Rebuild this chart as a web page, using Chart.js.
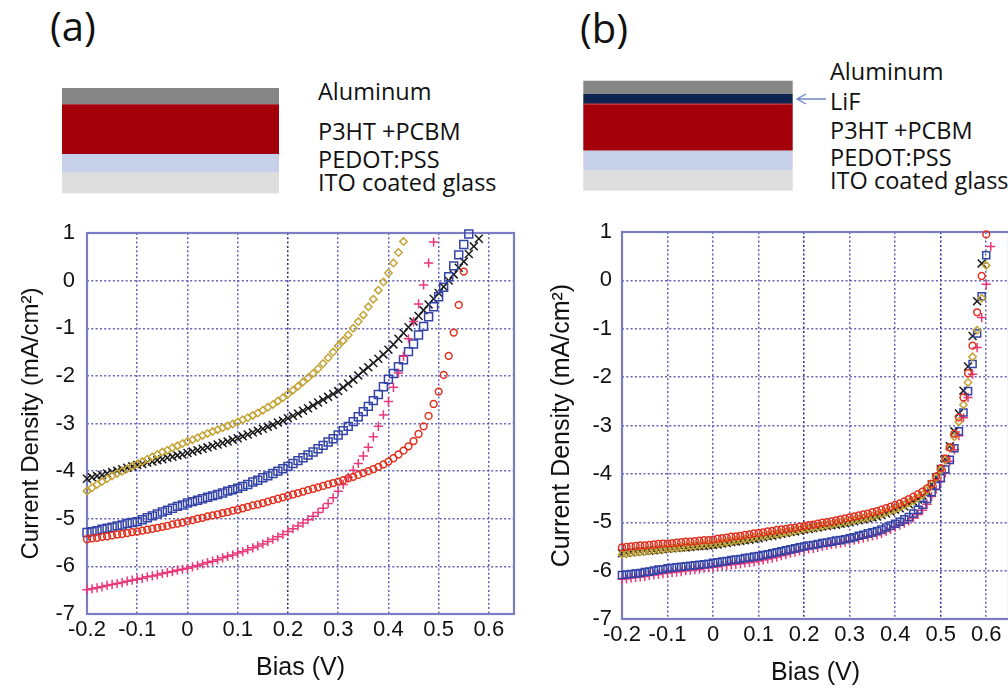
<!DOCTYPE html>
<html>
<head>
<meta charset="utf-8">
<script src="https://cdn.jsdelivr.net/npm/chart.js@4.4.1/dist/chart.umd.min.js"></script>
<style>
  html, body { margin: 0; padding: 0; background: #ffffff; }
  body { width: 1008px; height: 691px; overflow: hidden; position: relative; }
  canvas { position: absolute; }
  #cA { left: 0px; top: 200px; }
  #cB { left: 500px; top: 200px; }
  svg { position: absolute; left: 0; top: 0; }
</style>
</head>
<body>
<svg width="1008" height="200" viewBox="0 0 1008 200" font-family="'Open Sans', 'Noto Sans', sans-serif" fill="#111">
  <!-- panel (a) -->
  <text x="50" y="41" font-size="40">(a)</text>
  <rect x="62" y="88" width="217" height="16.5" fill="#868686"/>
  <rect x="62" y="104.3" width="217" height="49.8" fill="#a3000c"/>
  <rect x="62" y="154" width="217" height="18.8" fill="#c6d0e8"/>
  <rect x="62" y="172.7" width="217" height="20.6" fill="#dedede"/>
  <text x="318" y="100" font-size="23.5">Aluminum</text>
  <text x="318" y="140" font-size="23.5">P3HT +PCBM</text>
  <text x="318" y="168" font-size="23.5">PEDOT:PSS</text>
  <text x="318" y="190.5" font-size="23.5">ITO coated glass</text>
  <!-- panel (b) -->
  <text x="580" y="43" font-size="40">(b)</text>
  <rect x="583.3" y="80.7" width="209.4" height="13.3" fill="#868686"/>
  <rect x="583.3" y="94" width="209.4" height="10" fill="#0b2550"/>
  <rect x="583.3" y="104" width="209.4" height="46.7" fill="#a3000c"/>
  <rect x="583.3" y="103.5" width="209.4" height="1.2" fill="#d04848"/>
  <rect x="583.3" y="150.7" width="209.4" height="20" fill="#c6d0e8"/>
  <rect x="583.3" y="170.7" width="209.4" height="20" fill="#dedede"/>
  <path d="M826 99 L797 99 M806 94 L797 99 L806 104" stroke="#6f86cc" stroke-width="1.4" fill="none"/>
  <text x="830" y="79.5" font-size="23.5">Aluminum</text>
  <text x="830" y="109.5" font-size="23.5">LiF</text>
  <text x="830" y="139.3" font-size="23.5">P3HT +PCBM</text>
  <text x="830" y="166" font-size="23.5">PEDOT:PSS</text>
  <text x="830" y="189.3" font-size="23.5">ITO coated glass</text>
</svg>
<canvas id="cA" width="530" height="491"></canvas>
<canvas id="cB" width="530" height="491"></canvas>
<script>
// ---------- shared axis data ----------
const bias = [-0.20,-0.19,-0.18,-0.17,-0.16,-0.15,-0.14,-0.13,-0.12,-0.11,
  -0.10,-0.09,-0.08,-0.07,-0.06,-0.05,-0.04,-0.03,-0.02,-0.01,
  0.00,0.01,0.02,0.03,0.04,0.05,0.06,0.07,0.08,0.09,
  0.10,0.11,0.12,0.13,0.14,0.15,0.16,0.17,0.18,0.19,
  0.20,0.21,0.22,0.23,0.24,0.25,0.26,0.27,0.28,0.29,
  0.30,0.31,0.32,0.33,0.34,0.35,0.36,0.37,0.38,0.39,
  0.40,0.41,0.42,0.43,0.44,0.45,0.46,0.47,0.48,0.49,
  0.50,0.51,0.52,0.53,0.54,0.55,0.56,0.57,0.58,0.59,
  0.60,0.61];
const xTickValues = [-0.2,-0.1,0,0.1,0.2,0.3,0.4,0.5,0.6];
const xTickLabels = ['-0.2','-0.1','0','0.1','0.2','0.3','0.4','0.5','0.6'];
const yTickValues = [1,0,-1,-2,-3,-4,-5,-6,-7];
const yTickLabels = ['1','0','-1','-2','-3','-4','-5','-6','-7'];
const xTitle = 'Bias (V)';
const yTitle = 'Current Density (mA/cm\u00B2)';

// ---------- panel (a) series ----------
const aYellow = [-4.42,-4.35,-4.28,-4.22,-4.16,-4.10,-4.05,-4.00,-3.95,-3.90,
  -3.85,-3.80,-3.75,-3.70,-3.65,-3.60,-3.56,-3.51,-3.47,-3.42,
  -3.38,-3.34,-3.30,-3.25,-3.21,-3.17,-3.13,-3.09,-3.05,-3.01,
  -2.97,-2.92,-2.88,-2.83,-2.78,-2.72,-2.66,-2.60,-2.53,-2.46,
  -2.38,-2.30,-2.22,-2.13,-2.04,-1.95,-1.85,-1.74,-1.62,-1.50,
  -1.37,-1.26,-1.14,-1.00,-0.86,-0.72,-0.55,-0.39,-0.20,-0.03,
  0.16,0.37,0.59,0.82];
const aBlack = [-4.16,-4.13,-4.10,-4.08,-4.05,-4.02,-3.99,-3.96,-3.93,-3.90,
  -3.87,-3.85,-3.82,-3.80,-3.77,-3.75,-3.72,-3.70,-3.67,-3.65,
  -3.62,-3.59,-3.56,-3.53,-3.50,-3.47,-3.44,-3.41,-3.38,-3.34,
  -3.31,-3.27,-3.23,-3.19,-3.15,-3.11,-3.07,-3.03,-2.98,-2.94,
  -2.89,-2.84,-2.79,-2.73,-2.68,-2.62,-2.56,-2.50,-2.44,-2.38,
  -2.32,-2.24,-2.16,-2.08,-1.99,-1.90,-1.82,-1.73,-1.64,-1.55,
  -1.45,-1.34,-1.22,-1.10,-0.98,-0.86,-0.74,-0.62,-0.50,-0.38,
  -0.26,-0.13,0.00,0.13,0.27,0.40,0.56,0.72,0.88];
const aBlue = [-5.29,-5.27,-5.25,-5.22,-5.20,-5.18,-5.15,-5.13,-5.10,-5.08,
  -5.06,-5.02,-4.98,-4.94,-4.90,-4.86,-4.82,-4.78,-4.74,-4.71,
  -4.67,-4.64,-4.61,-4.58,-4.55,-4.52,-4.49,-4.46,-4.42,-4.39,
  -4.36,-4.32,-4.28,-4.23,-4.19,-4.14,-4.10,-4.05,-4.00,-3.95,
  -3.90,-3.84,-3.78,-3.72,-3.66,-3.60,-3.53,-3.46,-3.39,-3.32,
  -3.24,-3.15,-3.06,-2.96,-2.86,-2.75,-2.64,-2.52,-2.39,-2.23,
  -2.07,-1.95,-1.81,-1.66,-1.49,-1.33,-1.14,-0.96,-0.76,-0.55,
  -0.34,-0.14,0.08,0.31,0.54,0.76,0.98];
const aRed = [-5.43,-5.41,-5.40,-5.38,-5.37,-5.35,-5.33,-5.32,-5.30,-5.28,
  -5.27,-5.25,-5.23,-5.21,-5.19,-5.17,-5.15,-5.12,-5.10,-5.08,
  -5.05,-5.03,-5.00,-4.98,-4.95,-4.93,-4.91,-4.88,-4.86,-4.83,
  -4.81,-4.78,-4.75,-4.72,-4.70,-4.67,-4.64,-4.61,-4.58,-4.55,
  -4.52,-4.49,-4.46,-4.43,-4.40,-4.37,-4.34,-4.31,-4.28,-4.25,
  -4.22,-4.19,-4.15,-4.12,-4.08,-4.04,-4.00,-3.96,-3.91,-3.86,
  -3.80,-3.73,-3.65,-3.57,-3.48,-3.37,-3.22,-3.06,-2.84,-2.59,
  -2.33,-1.98,-1.58,-1.09,-0.51,0.19];
const aPink = [-6.49,-6.47,-6.45,-6.43,-6.40,-6.38,-6.36,-6.34,-6.31,-6.29,
  -6.27,-6.25,-6.22,-6.20,-6.18,-6.15,-6.13,-6.11,-6.08,-6.06,
  -6.04,-6.01,-5.98,-5.95,-5.92,-5.89,-5.86,-5.82,-5.79,-5.76,
  -5.72,-5.69,-5.65,-5.61,-5.57,-5.53,-5.48,-5.43,-5.38,-5.33,
  -5.27,-5.21,-5.15,-5.09,-5.02,-4.95,-4.87,-4.78,-4.68,-4.56,
  -4.42,-4.28,-4.13,-3.98,-3.84,-3.68,-3.50,-3.28,-3.06,-2.82,
  -2.54,-2.24,-1.94,-1.59,-1.22,-0.86,-0.49,-0.09,0.37,0.81];

// ---------- panel (b) series ----------
const bRed = [-5.52,-5.51,-5.50,-5.49,-5.48,-5.48,-5.47,-5.46,-5.45,-5.44,
  -5.44,-5.43,-5.42,-5.41,-5.40,-5.40,-5.39,-5.38,-5.37,-5.37,
  -5.36,-5.34,-5.33,-5.32,-5.30,-5.29,-5.28,-5.26,-5.25,-5.23,
  -5.22,-5.21,-5.19,-5.18,-5.16,-5.15,-5.14,-5.12,-5.11,-5.09,
  -5.08,-5.06,-5.05,-5.03,-5.01,-5.00,-4.98,-4.96,-4.94,-4.92,
  -4.90,-4.88,-4.86,-4.84,-4.82,-4.79,-4.77,-4.74,-4.71,-4.68,
  -4.64,-4.61,-4.57,-4.52,-4.47,-4.42,-4.37,-4.30,-4.20,-4.05,
  -3.88,-3.68,-3.45,-3.17,-2.83,-2.42,-1.92,-1.35,-0.66,0.09,
  0.95];
const bYellow = [-5.66,-5.65,-5.63,-5.62,-5.61,-5.60,-5.59,-5.58,-5.57,-5.56,
  -5.55,-5.54,-5.53,-5.52,-5.51,-5.50,-5.49,-5.48,-5.47,-5.46,
  -5.45,-5.44,-5.43,-5.41,-5.40,-5.38,-5.37,-5.35,-5.34,-5.32,
  -5.31,-5.29,-5.28,-5.26,-5.25,-5.23,-5.21,-5.20,-5.18,-5.16,
  -5.14,-5.13,-5.11,-5.10,-5.08,-5.06,-5.05,-5.03,-5.01,-5.00,
  -4.98,-4.96,-4.94,-4.92,-4.90,-4.88,-4.85,-4.83,-4.80,-4.76,
  -4.73,-4.69,-4.65,-4.60,-4.55,-4.50,-4.43,-4.34,-4.22,-4.08,
  -3.92,-3.72,-3.47,-3.23,-2.92,-2.57,-2.11,-1.58,-1.03,-0.37,
  0.31];
const bBlue = [-6.09,-6.08,-6.07,-6.06,-6.05,-6.03,-6.02,-6.00,-5.98,-5.97,
  -5.95,-5.94,-5.93,-5.92,-5.91,-5.90,-5.89,-5.88,-5.87,-5.86,
  -5.84,-5.83,-5.81,-5.80,-5.78,-5.77,-5.76,-5.74,-5.73,-5.71,
  -5.70,-5.68,-5.66,-5.64,-5.62,-5.60,-5.58,-5.56,-5.54,-5.52,
  -5.50,-5.48,-5.47,-5.45,-5.43,-5.42,-5.40,-5.38,-5.37,-5.35,
  -5.33,-5.31,-5.28,-5.26,-5.23,-5.21,-5.18,-5.15,-5.11,-5.07,
  -5.03,-4.99,-4.94,-4.89,-4.82,-4.74,-4.64,-4.52,-4.38,-4.25,
  -4.09,-3.91,-3.71,-3.47,-3.12,-2.73,-2.29,-1.73,-1.10,-0.33,
  0.52];
const bPink = [-6.18,-6.17,-6.15,-6.14,-6.13,-6.12,-6.10,-6.09,-6.08,-6.06,
  -6.05,-6.04,-6.03,-6.02,-6.00,-5.99,-5.98,-5.97,-5.95,-5.94,
  -5.93,-5.92,-5.90,-5.89,-5.88,-5.87,-5.86,-5.84,-5.83,-5.82,
  -5.80,-5.78,-5.76,-5.74,-5.72,-5.69,-5.67,-5.64,-5.62,-5.59,
  -5.57,-5.55,-5.54,-5.52,-5.50,-5.48,-5.46,-5.45,-5.43,-5.41,
  -5.39,-5.37,-5.35,-5.33,-5.31,-5.28,-5.26,-5.23,-5.19,-5.15,
  -5.10,-5.06,-5.02,-4.97,-4.91,-4.84,-4.75,-4.63,-4.47,-4.32,
  -4.15,-3.98,-3.74,-3.50,-3.21,-2.84,-2.42,-1.94,-1.39,-0.77,
  -0.08,0.70];
const bBlack = [-5.64,-5.63,-5.62,-5.61,-5.60,-5.59,-5.59,-5.58,-5.57,-5.56,
  -5.55,-5.54,-5.53,-5.52,-5.52,-5.51,-5.50,-5.49,-5.49,-5.48,
  -5.47,-5.46,-5.44,-5.43,-5.41,-5.40,-5.39,-5.37,-5.36,-5.34,
  -5.33,-5.31,-5.29,-5.28,-5.26,-5.24,-5.22,-5.20,-5.19,-5.17,
  -5.15,-5.14,-5.12,-5.11,-5.09,-5.08,-5.06,-5.05,-5.03,-5.02,
  -5.00,-4.98,-4.96,-4.94,-4.92,-4.90,-4.88,-4.85,-4.82,-4.78,
  -4.74,-4.71,-4.67,-4.63,-4.58,-4.53,-4.45,-4.36,-4.22,-4.08,
  -3.90,-3.69,-3.43,-3.12,-2.75,-2.28,-1.78,-1.15,-0.43,0.35];

// ---------- styling ----------
const COL = { yellow: '#c4a436', black: '#1a1a1a', blue: '#3444a6', red: '#e2301e', pink: '#e8387a' };
const tickFont = { family: "'Liberation Sans', Arial, sans-serif", size: 22 };

function pts(ys) { return ys.map((y, i) => ({ x: bias[i], y: y })); }
function ds(ys, color, style, r, bw) {
  return { data: pts(ys), showLine: false, pointStyle: style, pointRadius: r,
           pointBorderColor: color, pointBackgroundColor: 'rgba(0,0,0,0)',
           pointBorderWidth: bw, pointHoverRadius: r, clip: false };
}

const framePlugin = {
  id: 'frame',
  beforeDatasetsDraw(chart) {
    const a = chart.chartArea, c = chart.ctx;
    c.save();
    c.strokeStyle = '#7c7cc4';
    c.lineWidth = 2.2;
    c.strokeRect(a.left, a.top, a.right - a.left, a.bottom - a.top);
    c.restore();
  }
};

function makeChart(id, datasets, cfg) {
  return new Chart(document.getElementById(id), {
    type: 'scatter',
    data: { datasets: datasets },
    plugins: [framePlugin],
    options: {
      responsive: false, animation: false, devicePixelRatio: 1,
      layout: { padding: { top: cfg.padTop, right: cfg.padRight, left: 0, bottom: 0 } },
      plugins: { legend: { display: false }, tooltip: { enabled: false } },
      scales: {
        x: {
          type: 'linear', min: -0.2, max: 0.65,
          afterBuildTicks: (ax) => { ax.ticks = xTickValues.map(v => ({ value: v })); },
          afterFit: (ax) => { ax.height = cfg.xHeight; },
          ticks: { font: tickFont, color: '#111', padding: cfg.xTickPad, maxRotation: 0, autoSkip: false,
                   callback: (v, i) => xTickLabels[i] },
          grid: { drawTicks: false, lineWidth: 1.5,
                  color: (ctx) => (cfg.darkX.some(d => Math.abs(ctx.tick.value - d) < 1e-6) ? '#2c2c8c' : '#6262ba') },
          border: { display: false, dash: [2, 2.3] },
          title: { display: true, text: xTitle, color: '#111',
                   font: { family: "'Liberation Sans', Arial, sans-serif", size: 25 },
                   padding: { top: 0, bottom: cfg.xTitlePad } }
        },
        y: {
          type: 'linear', min: -7, max: 1,
          afterBuildTicks: (ax) => { ax.ticks = yTickValues.map(v => ({ value: v })); },
          afterFit: (ax) => { ax.width = cfg.yWidth; },
          ticks: { font: tickFont, color: '#111', padding: cfg.yTickPad, autoSkip: false,
                   callback: (v, i) => yTickLabels[i] },
          grid: { drawTicks: false, lineWidth: 1.5, color: '#6262ba' },
          border: { display: false, dash: [2, 2.3] },
          title: { display: true, text: yTitle, color: '#111',
                   font: { family: "'Liberation Sans', Arial, sans-serif", size: cfg.yTitleSize },
                   padding: { top: cfg.yTitlePad, bottom: 0 } }
        }
      }
    }
  });
}

makeChart('cA', [
  ds(aYellow, COL.yellow, 'rectRot', 3.7, 1.5),
  ds(aRed, COL.red, 'circle', 3.4, 1.5),
  ds(aPink, COL.pink, 'cross', 4.6, 1.5),
  ds(aBlue, COL.blue, 'rect', 5.6, 1.5),
  ds(aBlack, COL.black, 'crossRot', 5.6, 1.5)
], { padTop: 33, padRight: 16, xHeight: 77, yWidth: 87, xTickPad: 3, yTickPad: 12,
     xTitlePad: 8, yTitlePad: 17, yTitleSize: 24, darkX: [0.2] });

makeChart('cB', [
  ds(bRed, COL.red, 'circle', 3.4, 1.5),
  ds(bYellow, COL.yellow, 'rectRot', 3.7, 1.5),
  ds(bBlue, COL.blue, 'rect', 5.0, 1.5),
  ds(bPink, COL.pink, 'cross', 4.6, 1.5),
  ds(bBlack, COL.black, 'crossRot', 5.6, 1.5)
], { padTop: 32, padRight: 21, xHeight: 72, yWidth: 122, xTickPad: 3, yTickPad: 10,
     xTitlePad: 3, yTitlePad: 47, yTitleSize: 25, darkX: [0.2, 0.5] });
</script>
</body>
</html>
